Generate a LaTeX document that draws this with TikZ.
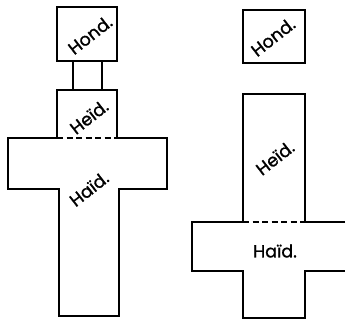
\documentclass[tikz,border=0pt]{standalone}
\usepackage{fontspec}
\setmainfont{Poppins}[FakeBold=1.2]

\begin{document}
\begin{tikzpicture}[
  x=1pt, y=-1pt,
  font=\fontsize{17.5}{17.5}\selectfont,
  wall/.style={draw=black, line width=1.1pt, line join=miter},
  seam/.style={draw=black, line width=1.1pt, dash pattern=on 6pt off 3.5pt},
  tag/.style={inner sep=0pt, rotate=38},
  flat/.style={inner sep=0pt},
]
\useasboundingbox (0,0) rectangle (349,321);

%% ---------- left figure ----------
\draw[wall] (57,7) rectangle (117,61);
\draw[wall] (73,61) -- (73,90);
\draw[wall] (102,61) -- (102,90);
\draw[wall] (57,138) -- (57,90) -- (117,90) -- (117,138);
\draw[wall] (57,138) -- (8,138) -- (8,189) -- (59,189) -- (59,316)
  -- (119,316) -- (119,189) -- (167,189) -- (167,138) -- (117,138);
\draw[seam] (57,138) -- (117,138);

\node[tag] (hondL) at (90,35) {Hond.};
\node[tag] (heidL) at (89,117) {Heïd.};
\node[tag] (haidL) at (89,189) {Haïd.};

%% ---------- right figure ----------
\draw[wall] (243,10) rectangle (305,63);
\draw[wall] (243,222) -- (243,94) -- (305,94) -- (305,222);
\draw[wall] (345,222) -- (305,222);
\draw[wall] (243,222) -- (192,222) -- (192,271) -- (243,271) -- (243,318)
  -- (305,318) -- (305,271) -- (345,271);
\draw[seam] (243,222) -- (305,222);

\node[tag] (hondR) at (273,37) {Hond.};
\node[tag] (heidR) at (275,158) {Heïd.};
\node[flat] (haidR) at (275,251) {Haïd.};

\end{tikzpicture}
\end{document}
